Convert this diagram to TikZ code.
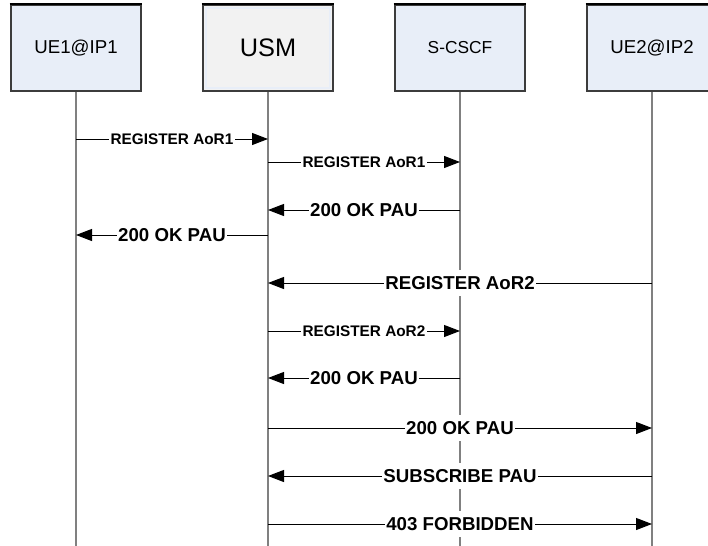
\documentclass[tikz,border=0pt]{standalone}
\usepackage{fontspec}
\setmainfont{Liberation Sans}
\usetikzlibrary{arrows.meta,positioning}
\definecolor{boxBlue}{RGB}{232,238,248}
\definecolor{boxGray}{RGB}{242,242,242}
\definecolor{lifeGray}{RGB}{128,128,128}
\definecolor{edgeGray}{RGB}{60,60,60}

\begin{document}
\begin{tikzpicture}[x=0.75pt,y=-0.75pt,
          actor/.style={rectangle, draw=edgeGray, line width=1.5pt, fill=boxBlue,
            minimum width=98pt, minimum height=64.5pt, inner sep=0pt,
            font=\fontsize{14}{16}\selectfont},
          life/.style={lifeGray, line width=1.5pt},
          msg/.style={-{Triangle[length=12pt,width=9pt]}, line width=0.75pt},
          lbl/.style={fill=white, inner xsep=1pt, inner ysep=5pt,
            font=\fontsize{14}{16}\selectfont\bfseries},
          slbl/.style={lbl, font=\fontsize{11.5}{13}\selectfont\bfseries}
        ]
          \clip (0,0) rectangle (708,546);
          \coordinate (bottom) at (0,546);
          % participants
          \node[actor] (ue1) at (76,48) {UE1@IP1};
          \node[actor, fill=boxGray, font=\fontsize{19}{21}\selectfont] (usm) at (268,48) {USM};
          \node[actor, font=\fontsize{13}{15}\selectfont] (cscf) at (460,48) {S-CSCF};
          \node[actor] (ue2) at (652,48) {UE2@IP2};
          \draw[boxBlue, line width=1.5pt] ([shift={(4,4)}]usm.north west) rectangle ([shift={(-4,-4)}]usm.south east);
          \foreach \n in {ue1,usm,cscf,ue2}
            \draw[black, line width=1.5pt] (\n.north west) -- (\n.north east);
          % lifelines
          \foreach \n in {ue1,usm,cscf,ue2}
            \draw[life] (\n.south) -- (\n.south |- bottom);
          % messages
          \draw[msg] (ue1 |- 0,139) -- node[slbl]{REGISTER AoR1} (usm |- 0,139);
          \draw[msg] (usm |- 0,162) -- node[slbl]{REGISTER AoR1} (cscf |- 0,162);
          \draw[msg] (cscf |- 0,210) -- node[lbl]{200 OK PAU} (usm |- 0,210);
          \draw[msg] (usm |- 0,235) -- node[lbl]{200 OK PAU} (ue1 |- 0,235);
          \draw[msg] (ue2 |- 0,283) -- node[lbl]{REGISTER AoR2} (usm |- 0,283);
          \draw[msg] (usm |- 0,331) -- node[slbl]{REGISTER AoR2} (cscf |- 0,331);
          \draw[msg] (cscf |- 0,378) -- node[lbl]{200 OK PAU} (usm |- 0,378);
          \draw[msg] (usm |- 0,428) -- node[lbl]{200 OK PAU} (ue2 |- 0,428);
          \draw[msg] (ue2 |- 0,476) -- node[lbl]{SUBSCRIBE PAU} (usm |- 0,476);
          \draw[msg] (usm |- 0,524) -- node[lbl]{403 FORBIDDEN} (ue2 |- 0,524);
        \end{tikzpicture}
\end{document}
